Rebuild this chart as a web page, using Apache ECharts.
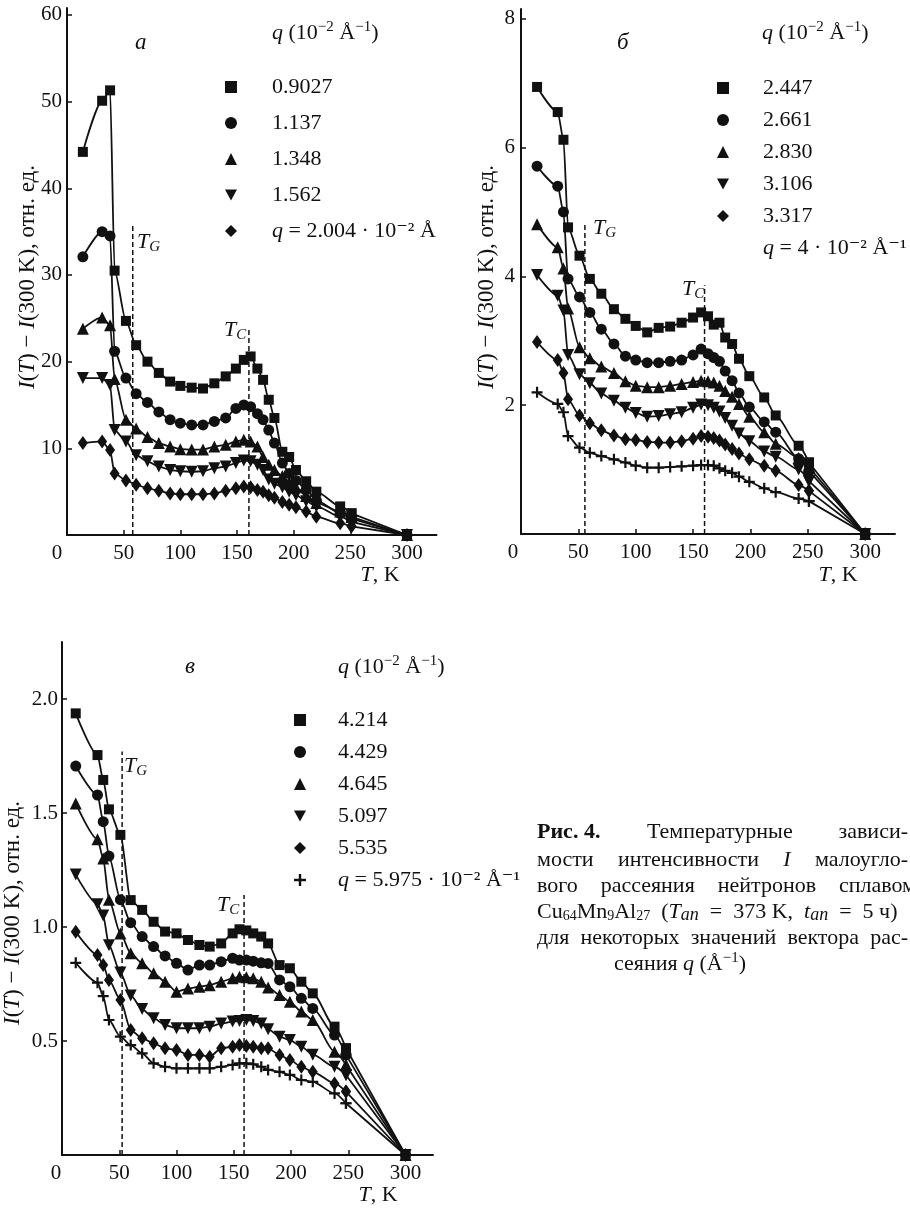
<!DOCTYPE html>
<html>
<head>
<meta charset="utf-8">
<script src="https://cdn.jsdelivr.net/npm/echarts@6/dist/echarts.min.js"></script>
<style>
  html, body { margin: 0; padding: 0; background: #fff; }
  #chart { width: 910px; height: 1208px; }
</style>
</head>
<body>
<div id="chart"></div>
<script>
var FONT = '"Liberation Serif", "DejaVu Serif", serif';
var INK = '#111';
var PLUS = 'path://M4,0H6V4H10V6H6V10H4V6H0V4H4Z';

// --- panel a
var tempA = [14, 31, 38, 42, 52, 61, 71, 81, 91, 100, 110, 120, 130, 140, 149, 156, 162, 168, 173, 178, 183, 190, 196, 202, 211, 220, 241, 251, 300];
var a0902 = [44.2, 50.1, 51.3, 30.5, 24.7, 21.9, 20.0, 18.7, 17.7, 17.2, 17.0, 16.9, 17.5, 18.3, 19.2, 20.2, 20.6, 19.2, 17.9, 15.6, 13.5, 9.6, 9.0, 7.5, 6.2, 5.0, 3.3, 2.5, 0];
var a1137 = [32.1, 35.0, 34.5, 21.2, 18.1, 16.3, 15.3, 14.2, 13.3, 12.9, 12.7, 12.7, 13.1, 13.5, 14.6, 15.0, 14.8, 14.0, 13.3, 12.1, 10.6, 8.3, 7.1, 6.3, 5.2, 4.0, 2.5, 1.9, 0];
var a1348 = [23.8, 25.1, 24.2, 18.0, 13.3, 12.3, 11.3, 10.6, 10.2, 9.9, 9.85, 9.85, 10.2, 10.4, 10.8, 11.0, 10.8, 10.2, 9.0, 8.1, 7.5, 6.8, 6.1, 5.5, 4.5, 3.7, 2.7, 2.1, 0];
var a1562 = [18.1, 18.1, 17.3, 12.1, 10.8, 9.2, 8.5, 7.9, 7.5, 7.35, 7.3, 7.35, 7.7, 7.9, 8.3, 8.6, 8.5, 8.1, 7.5, 6.4, 5.9, 5.5, 5.0, 4.6, 3.9, 3.3, 2.1, 1.5, 0];
var a2004 = [10.6, 10.8, 9.8, 7.1, 6.3, 5.8, 5.4, 5.1, 4.8, 4.7, 4.7, 4.7, 4.8, 5.1, 5.4, 5.6, 5.5, 5.2, 5.0, 4.6, 4.3, 3.8, 3.5, 3.2, 2.7, 2.1, 1.35, 1.0, 0];
var namesA = ['0.9027', '1.137', '1.348', '1.562', 'q = 2.004 · 10⁻² Å'];
var ticksA = [10, 20, 30, 40, 50, 60];
var tgA = [[58, 0], [58, 36]];
var tcA = [[160.5, 0], [160.5, 24]];

// --- panel б
var tempB = [14, 32, 37, 41, 51, 60, 70, 81, 91, 100, 110, 120, 130, 140, 150, 157, 163, 168, 173, 178, 184, 190, 199, 212, 222, 242, 251, 300];
var b2447 = [6.94, 6.55, 6.12, 4.76, 4.32, 3.96, 3.73, 3.49, 3.34, 3.23, 3.13, 3.2, 3.22, 3.28, 3.36, 3.44, 3.38, 3.25, 3.28, 3.05, 2.95, 2.72, 2.45, 2.12, 1.84, 1.37, 1.11, 0];
var b2661 = [5.71, 5.40, 5.0, 3.96, 3.68, 3.44, 3.18, 2.95, 2.76, 2.70, 2.66, 2.66, 2.68, 2.70, 2.78, 2.87, 2.80, 2.74, 2.68, 2.53, 2.38, 2.19, 1.97, 1.74, 1.58, 1.17, 0.98, 0];
var b2830 = [4.81, 4.45, 4.12, 3.5, 2.9, 2.73, 2.6, 2.5, 2.37, 2.3, 2.28, 2.28, 2.3, 2.33, 2.36, 2.38, 2.37, 2.35, 2.3, 2.22, 2.13, 2.02, 1.82, 1.58, 1.4, 1.18, 1.04, 0];
var b3106 = [4.02, 3.70, 3.47, 2.78, 2.48, 2.34, 2.18, 2.07, 1.96, 1.88, 1.82, 1.83, 1.86, 1.89, 1.96, 2.01, 2.0, 1.96, 1.9, 1.8, 1.68, 1.56, 1.44, 1.28, 1.2, 1.0, 0.82, 0];
var b3317 = [2.98, 2.70, 2.5, 2.09, 1.84, 1.72, 1.61, 1.53, 1.47, 1.46, 1.43, 1.42, 1.42, 1.44, 1.48, 1.52, 1.51, 1.49, 1.45, 1.39, 1.32, 1.25, 1.16, 1.06, 0.98, 0.76, 0.67, 0];
var b4000 = [2.2, 2.02, 1.89, 1.52, 1.34, 1.26, 1.21, 1.16, 1.11, 1.06, 1.03, 1.03, 1.04, 1.05, 1.06, 1.07, 1.07, 1.06, 1.02, 0.98, 0.95, 0.89, 0.81, 0.71, 0.65, 0.55, 0.51, 0];
var namesB = ['2.447', '2.661', '2.830', '3.106', '3.317', 'q = 4 · 10⁻² Å⁻¹'];
var ticksB = [2, 4, 6, 8];
var tgB = [[55.7, 0], [55.7, 4.84]];
var tcB = [[160, 0], [160, 3.86]];

// --- panel в
var tempC = [12, 31, 36, 41, 51, 60, 70, 80, 90, 100, 110, 120, 129, 139, 149, 155, 161, 167, 174, 180, 190, 199, 209, 219, 238, 248, 300];
var c4214 = [1.937, 1.754, 1.645, 1.516, 1.404, 1.118, 1.075, 1.023, 0.98, 0.972, 0.943, 0.921, 0.914, 0.928, 0.972, 0.99, 0.985, 0.972, 0.958, 0.928, 0.833, 0.819, 0.76, 0.709, 0.563, 0.468, 0];
var c4429 = [1.706, 1.579, 1.462, 1.311, 1.12, 1.019, 0.958, 0.914, 0.873, 0.841, 0.811, 0.833, 0.833, 0.848, 0.863, 0.855, 0.855, 0.85, 0.843, 0.84, 0.768, 0.738, 0.687, 0.643, 0.526, 0.439, 0];
var c4645 = [1.542, 1.385, 1.30, 1.12, 0.972, 0.885, 0.841, 0.797, 0.76, 0.716, 0.73, 0.738, 0.745, 0.76, 0.775, 0.782, 0.78, 0.775, 0.76, 0.735, 0.702, 0.672, 0.629, 0.592, 0.453, 0.395, 0];
var c5097 = [1.23, 1.10, 1.05, 0.92, 0.80, 0.70, 0.64, 0.60, 0.57, 0.556, 0.556, 0.556, 0.563, 0.577, 0.585, 0.588, 0.592, 0.588, 0.577, 0.552, 0.519, 0.504, 0.475, 0.44, 0.387, 0.351, 0];
var c5535 = [0.979, 0.877, 0.833, 0.768, 0.68, 0.548, 0.512, 0.49, 0.468, 0.46, 0.439, 0.439, 0.431, 0.468, 0.475, 0.482, 0.478, 0.475, 0.468, 0.468, 0.439, 0.417, 0.387, 0.365, 0.314, 0.278, 0];
var c5975 = [0.843, 0.756, 0.697, 0.592, 0.519, 0.482, 0.446, 0.402, 0.387, 0.38, 0.38, 0.38, 0.38, 0.387, 0.395, 0.402, 0.402, 0.398, 0.387, 0.373, 0.365, 0.351, 0.329, 0.321, 0.27, 0.227, 0];
var namesC = ['4.214', '4.429', '4.645', '5.097', '5.535', 'q = 5.975 · 10⁻² Å⁻¹'];
var ticksC = [0.5, 1.0, 1.5, 2.0];
var tgC = [[52.5, 0], [52.5, 1.77]];
var tcC = [[159, 0], [159, 1.14]];

var xTicks = [0, 50, 100, 150, 200, 250, 300];

var shapes = [
  { symbol: 'rect', size: 10, rotate: 0 },
  { symbol: 'circle', size: 11, rotate: 0 },
  { symbol: 'triangle', size: 12, rotate: 0 },
  { symbol: 'triangle', size: 12, rotate: 180 },
  { symbol: 'diamond', size: [10, 14], rotate: 0 },
  { symbol: PLUS, size: 11, rotate: 0 }
];
var legendIcons = ['rect', 'circle', 'triangle', 'path://M0,0L10,0L5,9Z', 'diamond', PLUS];

function pts(temps, vals) {
  return temps.map(function (t, i) { return [t, vals[i]]; });
}

// smooth curve up to ~250 K, then a straight run down to the 300 K point
function curve(name, temps, vals, k, idx) {
  var s = shapes[k];
  var base = {
    type: 'line', xAxisIndex: idx, yAxisIndex: idx,
    symbol: s.symbol, symbolSize: s.size, symbolRotate: s.rotate,
    lineStyle: { color: INK, width: 1.8 },
    itemStyle: { color: INK },
    z: 3
  };
  var main = Object.assign({}, base, {
    name: name, data: pts(temps.slice(0, -1), vals.slice(0, -1)),
    smooth: 0.25, smoothMonotone: 'x'
  });
  var tail = Object.assign({}, base, {
    data: pts(temps.slice(-2), vals.slice(-2)), smooth: false
  });
  return [main, tail];
}

function guide(idx, line) {
  return {
    type: 'line', xAxisIndex: idx, yAxisIndex: idx, data: line,
    symbol: 'none', silent: true,
    lineStyle: { color: INK, width: 1.5, type: [5, 3] }, z: 2
  };
}

function xAxisFor(idx, max, zeroShift) {
  return {
    type: 'value', gridIndex: idx, min: 0, max: max,
    axisLine: { show: true, onZero: false, lineStyle: { color: INK, width: 2 } },
    axisTick: { show: true, inside: true, length: 5, customValues: xTicks, lineStyle: { color: INK, width: 1.5 } },
    axisLabel: {
      customValues: xTicks, margin: 8, fontFamily: FONT, fontSize: 21, color: INK,
      formatter: function (v) { return v === 0 ? '{z|0}' : String(v); },
      rich: { z: { fontFamily: FONT, fontSize: 21, color: INK, padding: [0, zeroShift, 0, 0] } }
    },
    splitLine: { show: false }
  };
}

function yAxisFor(idx, max, ticks, digits, margin) {
  return {
    type: 'value', gridIndex: idx, min: 0, max: max,
    axisLine: { show: true, onZero: false, lineStyle: { color: INK, width: 2 } },
    axisTick: { show: true, inside: true, length: 5, customValues: ticks, lineStyle: { color: INK, width: 1.5 } },
    axisLabel: {
      customValues: ticks, margin: margin, fontFamily: FONT, fontSize: 21, color: INK,
      formatter: function (v) { return v.toFixed(digits); }
    },
    splitLine: { show: false }
  };
}

function legendFor(names, left, top, gap, textPad, hideLast) {
  return {
    orient: 'vertical', left: left, top: top, padding: 0,
    itemWidth: 12, itemHeight: 12, itemGap: gap, selectedMode: false,
    textStyle: { fontFamily: FONT, fontSize: 22, lineHeight: 20, color: INK, padding: [0, 0, 0, textPad],
      rich: { i: { fontFamily: FONT, fontSize: 22, fontStyle: 'italic', color: INK } } },
    formatter: function (name) { return name.charAt(0) === 'q' ? '{i|q}' + name.slice(1) : name; },
    data: names.map(function (n, i) {
      var item = { name: n, icon: legendIcons[i] };
      if (hideLast && i === names.length - 1) item.itemStyle = { opacity: 0 };
      return item;
    })
  };
}

var rich = {
  i: { fontFamily: FONT, fontSize: 22, fontStyle: 'italic', color: INK },
  iy: { fontFamily: FONT, fontSize: 23, fontStyle: 'italic', color: INK },
  s: { fontFamily: FONT, fontSize: 15, fontStyle: 'italic', color: INK, padding: [11, 0, 0, 0] },
  b: { fontFamily: FONT, fontSize: 22, fontWeight: 'bold', color: INK },
  d: { fontFamily: FONT, fontSize: 14, color: INK, padding: [9, 0, 0, 0] },
  si: { fontFamily: FONT, fontSize: 18, fontStyle: 'italic', color: INK, padding: [7, 0, 0, 0] },
  sup: { fontFamily: FONT, fontSize: 15, color: INK, padding: [0, 0, 11, 0] }
};

function txt(x, y, text, o) {
  o = o || {};
  return {
    type: 'text', x: x, y: y, rotation: o.rotation || 0, silent: true,
    style: {
      text: text, fill: INK, fontFamily: FONT, fontSize: o.size || 22,
      fontStyle: o.italic ? 'italic' : 'normal', fontWeight: o.bold ? 'bold' : 'normal',
      align: o.align || 'left', verticalAlign: 'middle', rich: rich
    }
  };
}

// caption lines are justified like the printed block: spread words between two edges
var measureCtx = document.createElement('canvas').getContext('2d');
function wordWidth(plain, style) {
  measureCtx.font = (style || 'normal') + ' 22px ' + FONT;
  return measureCtx.measureText(plain).width;
}
function justified(y, words, left, right) {
  var widths = words.map(function (w) { return wordWidth(w[1], w[2]); });
  var total = widths.reduce(function (a, b) { return a + b; }, 0);
  var gap = (right - left - total) / (words.length - 1);
  var x = left;
  return words.map(function (w, i) {
    var el = txt(x, y, w[0]);
    x += widths[i] + gap;
    return el;
  });
}

var yName = '{iy|I}({iy|T}) − {iy|I}(300 K), отн. ед.';
var xName = '{i|T}, K';
var legendTitle = '{i|q} (10{sup|−2} Å{sup|−1})';

var graphics = [
  txt(135, 43, 'a', { italic: true, size: 23 }),
  txt(617, 43, 'б', { italic: true, size: 23 }),
  txt(185, 667, 'в', { italic: true, size: 23 }),
  txt(272, 33, legendTitle), txt(762, 33, legendTitle), txt(338, 667, legendTitle),
  txt(28, 277, yName, { align: 'center', rotation: Math.PI / 2, size: 23 }),
  txt(487, 277, yName, { align: 'center', rotation: Math.PI / 2, size: 23 }),
  txt(13, 913, yName, { align: 'center', rotation: Math.PI / 2, size: 23 }),
  txt(380, 575, xName, { align: 'center' }),
  txt(838, 575, xName, { align: 'center' }),
  txt(378, 1195, xName, { align: 'center' }),
  txt(137, 242, '{i|T}{s|G}'), txt(224, 330, '{i|T}{s|C}'),
  txt(593, 228, '{i|T}{s|G}'), txt(682, 289, '{i|T}{s|C}'),
  txt(124, 766, '{i|T}{s|G}'), txt(217, 905, '{i|T}{s|C}'),
  // caption
  txt(537, 832, '{b|Рис. 4.}'), txt(647, 832, 'Температурные'),
  txt(908, 832, 'зависи-', { align: 'right' }),
  txt(537, 912, 'Cu{d|64}Mn{d|9}Al{d|27}\u2002({i|T}{si|an}\u2002=\u2002373 K,\u2002{i|t}{si|an}\u2002=\u20025 ч)'),
  txt(680, 964, 'сеяния {i|q} (Å{sup|−1})', { align: 'center' })
].concat(
  justified(860, [['мости', 'мости'], ['интенсивности', 'интенсивности'], ['{i|I}', 'I', 'italic'], ['малоугло-', 'малоугло-']], 537, 908),
  justified(886, [['вого', 'вого'], ['рассеяния', 'рассеяния'], ['нейтронов', 'нейтронов'], ['сплавом', 'сплавом']], 537, 916),
  justified(938, [['для', 'для'], ['некоторых', 'некоторых'], ['значений', 'значений'], ['вектора', 'вектора'], ['рас-', 'рас-']], 537, 908)
);

var series = [].concat(
  curve(namesA[0], tempA, a0902, 0, 0),
  curve(namesA[1], tempA, a1137, 1, 0),
  curve(namesA[2], tempA, a1348, 2, 0),
  curve(namesA[3], tempA, a1562, 3, 0),
  curve(namesA[4], tempA, a2004, 4, 0),
  [guide(0, tgA), guide(0, tcA)],
  curve(namesB[0], tempB, b2447, 0, 1),
  curve(namesB[1], tempB, b2661, 1, 1),
  curve(namesB[2], tempB, b2830, 2, 1),
  curve(namesB[3], tempB, b3106, 3, 1),
  curve(namesB[4], tempB, b3317, 4, 1),
  curve(namesB[5], tempB, b4000, 5, 1),
  [guide(1, tgB), guide(1, tcB)],
  curve(namesC[0], tempC, c4214, 0, 2),
  curve(namesC[1], tempC, c4429, 1, 2),
  curve(namesC[2], tempC, c4645, 2, 2),
  curve(namesC[3], tempC, c5097, 3, 2),
  curve(namesC[4], tempC, c5535, 4, 2),
  curve(namesC[5], tempC, c5975, 5, 2),
  [guide(2, tgC), guide(2, tcC)]
);

var option = {
  animation: false,
  backgroundColor: '#fff',
  textStyle: { fontFamily: FONT },
  grid: [
    { left: 67, top: 8, width: 369.5, height: 527, outerBoundsMode: 'none' },
    { left: 521, top: 9, width: 374, height: 525, outerBoundsMode: 'none' },
    { left: 62, top: 642, width: 371, height: 513, outerBoundsMode: 'none' }
  ],
  xAxis: [xAxisFor(0, 326, 20), xAxisFor(1, 326, 16), xAxisFor(2, 324, 12)],
  yAxis: [yAxisFor(0, 60.8, ticksA, 0, 5), yAxisFor(1, 8.15, ticksB, 0, 6), yAxisFor(2, 2.25, ticksC, 1, 4)],
  legend: [
    legendFor(namesA, 225, 76, 14, 30, false),
    legendFor(namesB, 717, 77, 10, 29, true),
    legendFor(namesC, 294, 709, 10, 27, false)
  ],
  graphic: graphics,
  series: series
};

var chart = echarts.init(document.getElementById('chart'));
chart.setOption(option);
</script>
</body>
</html>
